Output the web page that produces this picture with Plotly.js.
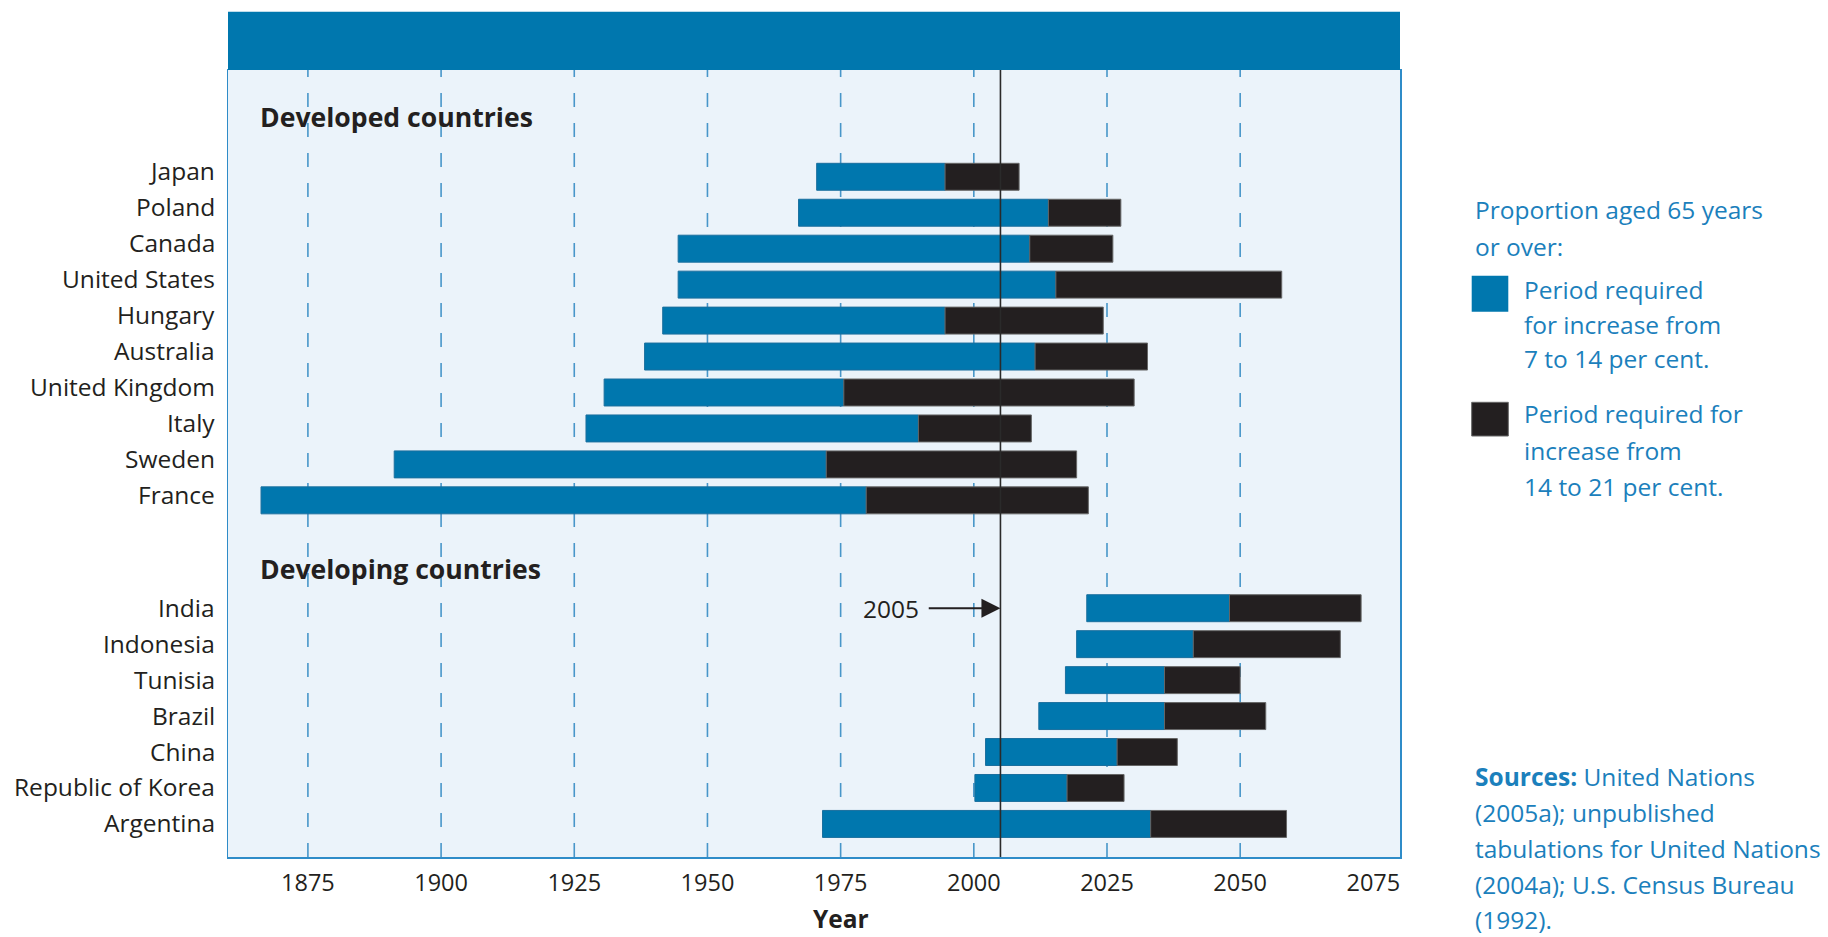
<!DOCTYPE html>
<html><head><meta charset="utf-8">
<script src="https://cdn.plot.ly/plotly-3.0.1.min.js"></script>
<style>html,body{margin:0;padding:0;background:#fff;}#chart{width:1828px;height:937px;}</style>
</head><body><div id="chart"></div>
<script>
// ---- data (years) ----
const developed = ['Japan','Poland','Canada','United States','Hungary','Australia','United Kingdom','Italy','Sweden','France'];
const devStart7  = [1970.5, 1967.1, 1944.5, 1944.5, 1941.6, 1938.2, 1930.6, 1927.2, 1891.2, 1866.2];
const devReach14 = [1994.6, 2014.0, 2010.5, 2015.4, 1994.6, 2011.5, 1975.6, 1989.6, 1972.3, 1979.8];
const devReach21 = [2008.5, 2027.6, 2026.1, 2057.8, 2024.3, 2032.6, 2030.1, 2010.8, 2019.3, 2021.5];

const developing = ['India','Indonesia','Tunisia','Brazil','China','Republic of Korea','Argentina'];
const dvgStart7  = [2021.2, 2019.3, 2017.2, 2012.2, 2002.2, 2000.2, 1971.6];
const dvgReach14 = [2048.0, 2041.2, 2035.8, 2035.8, 2026.9, 2017.5, 2033.2];
const dvgReach21 = [2072.7, 2068.8, 2050.0, 2054.8, 2038.2, 2028.2, 2058.7];

const xTicks = [1875, 1900, 1925, 1950, 1975, 2000, 2025, 2050, 2075];
const currentYear = 2005;

const legendTitle = ['Proportion aged 65 years', 'or over:'];
const legendBlue  = ['Period required', 'for increase from', '7 to 14 per cent.'];
const legendBlack = ['Period required for', 'increase from', '14 to 21 per cent.'];
const sources = ['<b>Sources:</b> United Nations', '(2005a); unpublished', 'tabulations for United Nations', '(2004a); U.S. Census Bureau', '(1992).'];

// ---- build ----
const countries = developed.concat(developing);
const yPos = developed.map((_, i) => i).concat(developing.map((_, j) => developed.length + 2 + j));
const start7 = devStart7.concat(dvgStart7);
const reach14 = devReach14.concat(dvgReach14);
const reach21 = devReach21.concat(dvgReach21);

const BLUE = '#0077AE', BLACK = '#231F20', TXT = '#231F20', LEG = '#1B80BC';
const L = 228, R = 1400, T = 70, B = 857;
const px = x => (x - L) / (R - L);
const py = y => (B - y) / (B - T);

const traces = [
  { type: 'bar', orientation: 'h', y: yPos, base: start7,
    x: reach14.map((v, i) => v - start7[i]), width: 0.75,
    marker: { color: BLUE, line: { color: '#1a6f9e', width: 1 } }, hoverinfo: 'skip' },
  { type: 'bar', orientation: 'h', y: yPos, base: reach14,
    x: reach21.map((v, i) => v - reach14[i]), width: 0.75,
    marker: { color: BLACK, line: { color: '#666666', width: 1 } }, hoverinfo: 'skip' }
];

const shapes = [
  { type: 'rect', xref: 'paper', yref: 'paper', x0: 0, x1: 1, y0: 1, y1: py(11.7),
    fillcolor: BLUE, line: { width: 0 } }
];
xTicks.filter(t => t < 2075).forEach(t => shapes.push({
  type: 'line', xref: 'x', yref: 'paper', x0: t, x1: t, y0: 0, y1: 1, layer: 'below',
  line: { color: '#4896C9', width: 1.6, dash: '14px,16px' }
}));
shapes.push({ type: 'line', xref: 'x', yref: 'paper', x0: currentYear, x1: currentYear, y0: 0, y1: 1,
  line: { color: '#2a2a2a', width: 1.6 } });
// legend swatches
shapes.push({ type: 'rect', xref: 'paper', yref: 'paper', x0: px(1471.7), x1: px(1508.3), y0: py(311.7), y1: py(275.7),
  fillcolor: BLUE, line: { width: 0 } });
shapes.push({ type: 'rect', xref: 'paper', yref: 'paper', x0: px(1471.7), x1: px(1508.3), y0: py(436), y1: py(402.3),
  fillcolor: BLACK, line: { color: '#666', width: 1 } });

const ann = [];
const txt = (text, x, y, opts) => ann.push(Object.assign({ text, xref: 'paper', yref: 'paper', x: px(x), y: py(y),
  xanchor: 'left', yanchor: 'middle', showarrow: false, font: { size: 24.5, color: LEG } }, opts || {}));
legendTitle.forEach((t, i) => txt(t, 1472.7, 210 + i * 36.7));
legendBlue.forEach((t, i) => txt(t, 1522.3, 289 + i * 35));
legendBlack.forEach((t, i) => txt(t, 1522.3, 413.3 + i * 36.7));
sources.forEach((t, i) => txt(t, 1472.7, 776.7 + i * 35.8));
// section labels
txt('<b>Developed countries</b>', 258, 116.6, { font: { size: 26.6, color: TXT } });
txt('<b>Developing countries</b>', 258, 569, { font: { size: 26.6, color: TXT } });
// country labels (developed rows sit a little above their bars in the original)
countries.forEach((c, i) => ann.push({ text: c, xref: 'paper', yref: 'y', x: 0, y: yPos[i], xanchor: 'right',
  yanchor: 'middle', xshift: -11, yshift: i < developed.length ? 6 : 1, showarrow: false,
  font: { size: 24.5, color: TXT } }));
// year axis label
ann.push({ text: '<b>Year</b>', xref: 'x', yref: 'paper', x: 1975, y: py(937), xanchor: 'center', yanchor: 'bottom',
  showarrow: false, font: { size: 24.5, color: TXT } });
// 2005 arrow
ann.push({ text: '2005', xref: 'x', yref: 'y', x: currentYear, y: yPos[developed.length], axref: 'x', ayref: 'y',
  ax: 1984.5, ay: yPos[developed.length], showarrow: true, arrowhead: 2, arrowsize: 1.9, arrowwidth: 2,
  arrowcolor: TXT, startstandoff: 8, standoff: 0, font: { size: 24.5, color: TXT } });

const layout = {
  width: 1828, height: 937,
  margin: { l: L, r: 1828 - R, t: T, b: 937 - B, pad: 0 },
  paper_bgcolor: '#ffffff', plot_bgcolor: '#EBF3FA',
  font: { family: 'Open Sans, sans-serif', color: TXT, size: 24 },
  showlegend: false, barmode: 'overlay',
  xaxis: { range: [1860, 2080], tickvals: xTicks, ticktext: xTicks.map(String), showgrid: false, zeroline: false,
    showline: true, mirror: true, linecolor: '#2F8CC8', linewidth: 1.5, ticks: '', ticklabelstandoff: 4,
    tickfont: { size: 23.5, color: TXT } },
  yaxis: { range: [18.92, -2.97], showticklabels: false, showgrid: false, zeroline: false,
    showline: true, mirror: true, linecolor: '#2F8CC8', linewidth: 1.5, ticks: '' },
  shapes: shapes, annotations: ann
};

Plotly.newPlot('chart', traces, layout, { displayModeBar: false, staticPlot: true });
</script></body></html>
